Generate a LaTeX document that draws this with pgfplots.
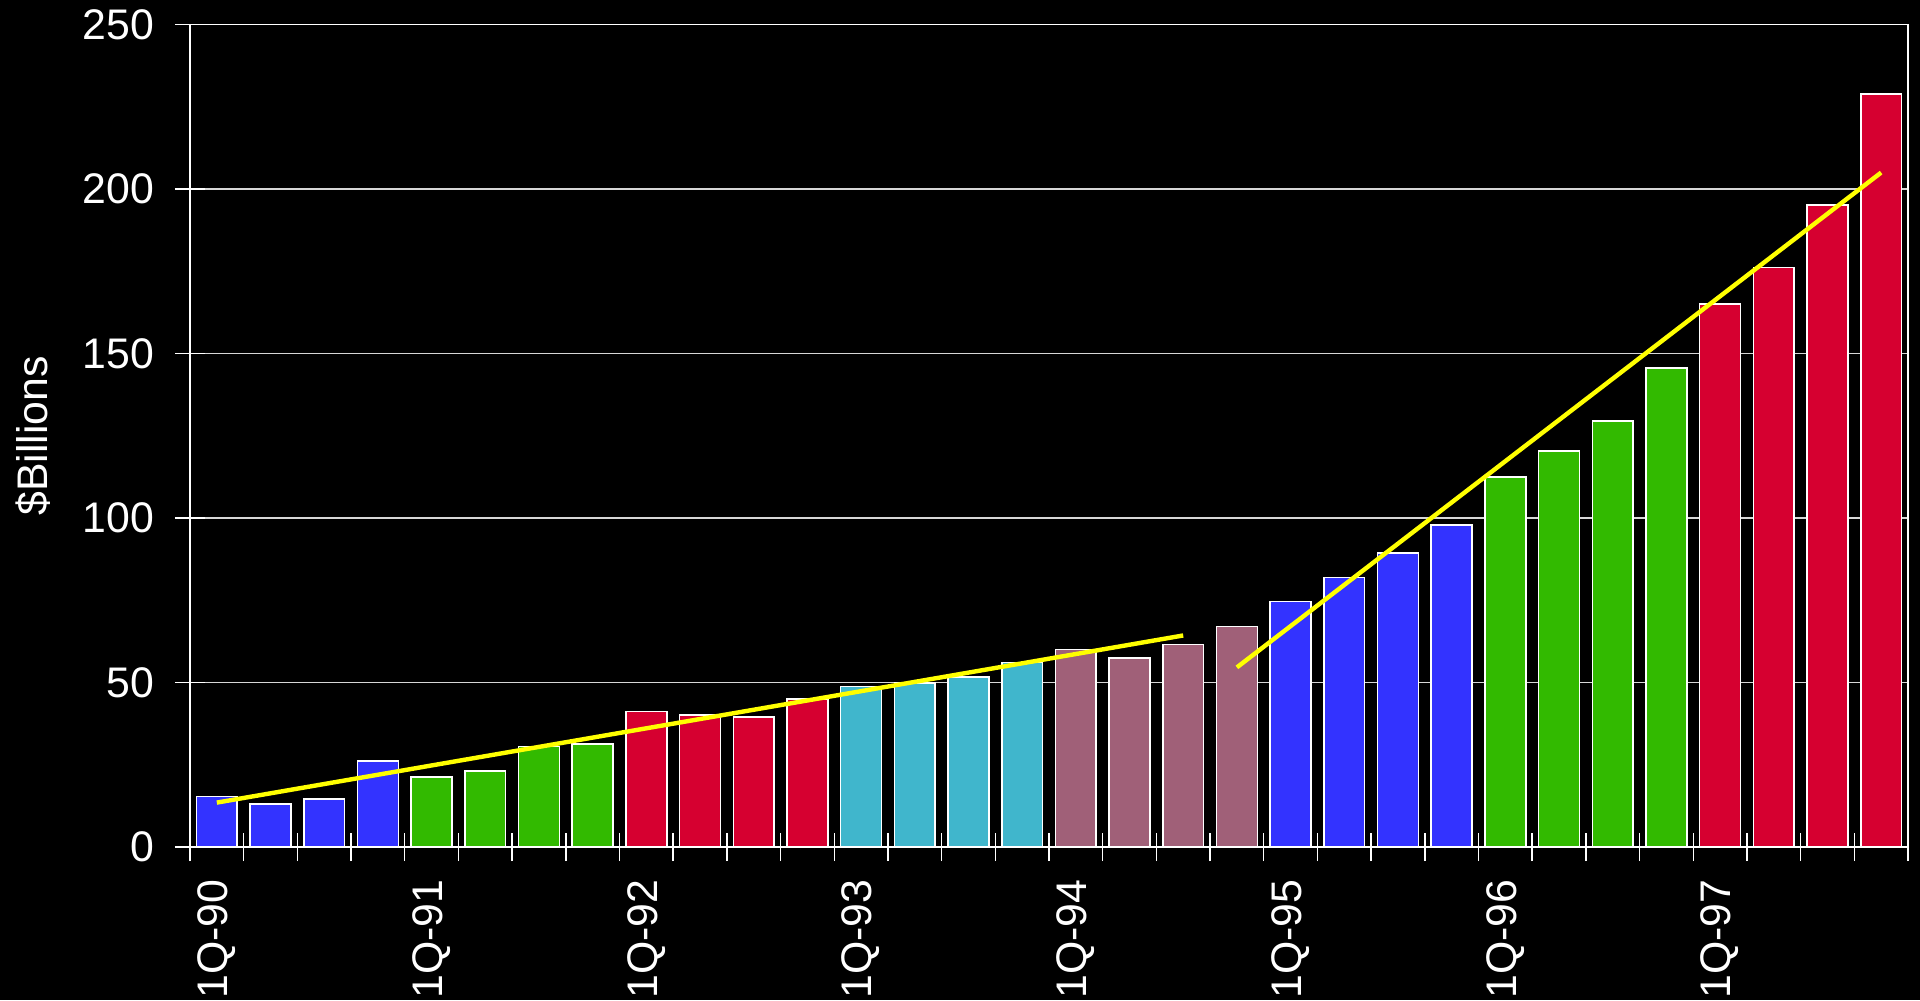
\documentclass[border=0pt]{standalone}
\usepackage{pgfplots}
\pgfplotsset{compat=1.18}
\usepackage{fontspec}
\setmainfont{Liberation Sans}
\definecolor{cblue}{RGB}{51,51,255}
\definecolor{cgreen}{RGB}{50,186,0}
\definecolor{cred}{RGB}{214,0,48}
\definecolor{ccyan}{RGB}{64,182,204}
\definecolor{cmauve}{RGB}{160,96,120}
\definecolor{cgrid}{RGB}{215,215,215}
\definecolor{cyel}{RGB}{255,255,0}
\begin{document}
\begin{tikzpicture}
\fill[black] (-47.5pt,-38.25pt) rectangle (432.5pt,211.75pt);
\begin{axis}[
  scale only axis,
  width=429.5pt, height=205.625pt,
  xmin=-0.5, xmax=31.5, ymin=0, ymax=250,
  axis line style={white, line width=0.35pt},
  ymajorgrids, grid style={cgrid, line width=0.35pt},
  ytick={0,50,...,250},
  xtick={0,4,...,28},
  xticklabels={1Q-90,1Q-91,1Q-92,1Q-93,1Q-94,1Q-95,1Q-96,1Q-97},
  minor xtick={-0.5,0.5,...,31.5},
  xtick pos=bottom, ytick pos=left,
  tick align=center,
  major tick length=7.5pt,
  minor tick length=7pt,
  tick style={white, line width=0.35pt},
  major x tick style={draw=none},
  /pgf/number format/assume math mode=true,
  ticklabel style={font=\fontsize{10.7pt}{12pt}\selectfont, white},
  yticklabel style={anchor=east, inner sep=0pt},
  yticklabel shift=5pt,
  xticklabel style={rotate=90, anchor=east, inner sep=0pt},
  xticklabel shift=4.25pt,
  ylabel={\$Billions},
  ylabel style={font=\fontsize{10.7pt}{12pt}\selectfont, white, at={(axis description cs:-0.0914,0.5)}, anchor=center},
  clip=false,
]
\addplot[ybar, bar width=0.76, bar shift=0pt, fill=cblue, draw=white, line width=0.4pt] coordinates {(0,15.4) (1,13.1) (2,14.6) (3,26.1)};
\addplot[ybar, bar width=0.76, bar shift=0pt, fill=cgreen, draw=white, line width=0.4pt] coordinates {(4,21.3) (5,23.1) (6,30.6) (7,31.3)};
\addplot[ybar, bar width=0.76, bar shift=0pt, fill=cred, draw=white, line width=0.4pt] coordinates {(8,41.2) (9,40.2) (10,39.6) (11,44.9)};
\addplot[ybar, bar width=0.76, bar shift=0pt, fill=ccyan, draw=white, line width=0.4pt] coordinates {(12,48.8) (13,49.9) (14,51.7) (15,56.1)};
\addplot[ybar, bar width=0.76, bar shift=0pt, fill=cmauve, draw=white, line width=0.4pt] coordinates {(16,60.0) (17,57.5) (18,61.5) (19,67.0)};
\addplot[ybar, bar width=0.76, bar shift=0pt, fill=cblue, draw=white, line width=0.4pt] coordinates {(20,74.6) (21,81.9) (22,89.3) (23,97.9)};
\addplot[ybar, bar width=0.76, bar shift=0pt, fill=cgreen, draw=white, line width=0.4pt] coordinates {(24,112.5) (25,120.3) (26,129.4) (27,145.6)};
\addplot[ybar, bar width=0.76, bar shift=0pt, fill=cred, draw=white, line width=0.4pt] coordinates {(28,165.1) (29,176.2) (30,195.2) (31,228.8)};
\addplot[cyel, line width=1.1pt, mark=none] coordinates {(0,13.5) (18,64.3)};
\addplot[cyel, line width=1.1pt, mark=none] coordinates {(19,54.6) (31,205.0)};
\end{axis}
\pgfresetboundingbox
\useasboundingbox (-47.5pt,-38.25pt) rectangle (432.5pt,211.75pt);
\end{tikzpicture}
\end{document}
